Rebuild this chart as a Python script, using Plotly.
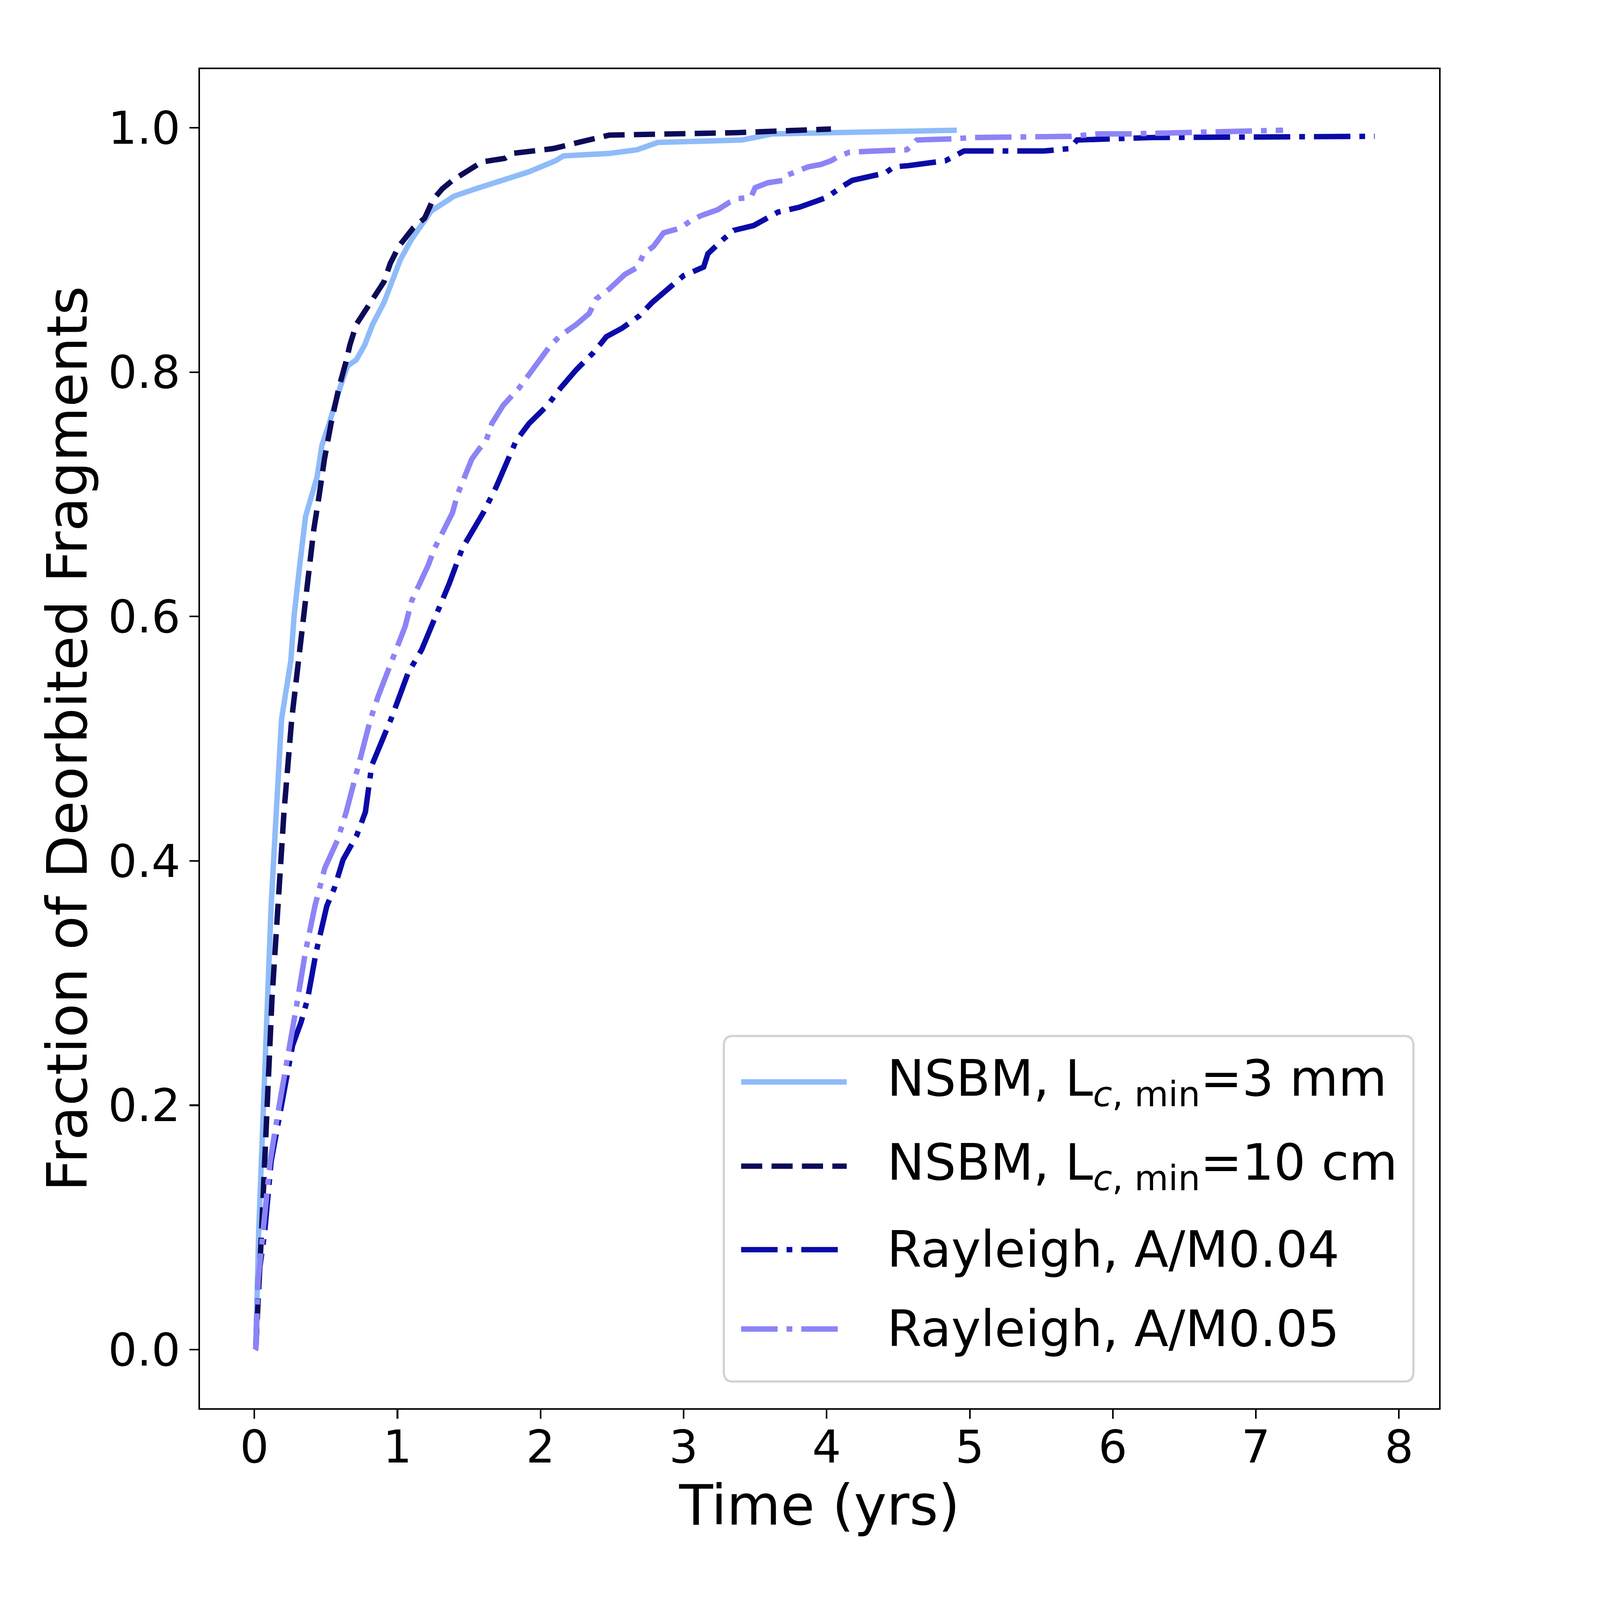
import plotly.graph_objects as go

# ---------------- data ----------------
nsbm3_t = [0.005, 0.01, 0.03, 0.07, 0.087, 0.117, 0.153, 0.19, 0.255, 0.278,
           0.317, 0.358, 0.438, 0.472, 0.523, 0.55, 0.598, 0.65, 0.712, 0.77,
           0.826, 0.906, 0.963, 1.02, 1.10, 1.168, 1.237, 1.317, 1.396, 1.545,
           1.727, 1.92, 2.105, 2.16, 2.48, 2.675, 2.82, 3.41, 3.62, 4.91]
nsbm3_f = [0.0, 0.001, 0.096, 0.211, 0.287, 0.363, 0.44, 0.516, 0.564, 0.601,
           0.642, 0.682, 0.714, 0.74, 0.758, 0.77, 0.787, 0.805, 0.81, 0.822,
           0.839, 0.857, 0.874, 0.892, 0.909, 0.921, 0.932, 0.938, 0.944, 0.950,
           0.957, 0.964, 0.973, 0.977, 0.979, 0.982, 0.988, 0.990, 0.995, 0.998]

nsbm10_t = [0.005, 0.01, 0.05, 0.096, 0.123, 0.165, 0.207, 0.261, 0.308, 0.358,
            0.415, 0.454, 0.49, 0.536, 0.59, 0.644, 0.667, 0.712, 0.815, 0.906,
            0.95, 1.01, 1.11, 1.19, 1.248, 1.313, 1.385, 1.487, 1.59, 1.75,
            1.80, 2.02, 2.09, 2.30, 2.48, 3.37, 4.03]
nsbm10_f = [0.0, 0.001, 0.096, 0.211, 0.287, 0.363, 0.44, 0.516, 0.564, 0.613,
            0.671, 0.70, 0.729, 0.758, 0.787, 0.81, 0.822, 0.839, 0.857, 0.874,
            0.889, 0.903, 0.918, 0.926, 0.941, 0.950, 0.957, 0.964, 0.972, 0.975,
            0.979, 0.982, 0.983, 0.989, 0.994, 0.996, 0.999]

ray04_t = [0.005, 0.01, 0.027, 0.072, 0.117, 0.207, 0.267, 0.326, 0.372, 0.431,
           0.506, 0.56, 0.62, 0.716, 0.776, 0.82, 0.89, 0.955, 1.015, 1.075,
           1.17, 1.248, 1.362, 1.454, 1.60, 1.69, 1.77, 1.83, 1.92, 2.05,
           2.14, 2.25, 2.37, 2.46, 2.57, 2.69, 2.78, 2.88, 3.0, 3.14,
           3.17, 3.28, 3.35, 3.49, 3.66, 3.81, 3.91, 4.0, 4.11, 4.18,
           4.41, 4.47, 4.57, 4.83, 4.96, 5.52, 5.70, 5.75, 6.27, 7.83]
ray04_f = [0.0, 0.001, 0.058, 0.096, 0.154, 0.211, 0.249, 0.268, 0.287, 0.325,
           0.363, 0.378, 0.401, 0.421, 0.44, 0.478, 0.497, 0.516, 0.535, 0.554,
           0.573, 0.595, 0.627, 0.656, 0.685, 0.706, 0.729, 0.744, 0.758, 0.773,
           0.787, 0.802, 0.816, 0.829, 0.836, 0.846, 0.857, 0.867, 0.879, 0.886,
           0.897, 0.909, 0.916, 0.920, 0.931, 0.935, 0.939, 0.943, 0.952, 0.957,
           0.963, 0.968, 0.969, 0.973, 0.981, 0.981, 0.983, 0.990, 0.992, 0.993]

ray05_t = [0.005, 0.01, 0.027, 0.057, 0.11, 0.162, 0.222, 0.273, 0.303, 0.356,
           0.423, 0.492, 0.581, 0.642, 0.686, 0.731, 0.77, 0.812, 0.866, 0.931,
           0.99, 1.054, 1.10, 1.215, 1.26, 1.385, 1.42, 1.52, 1.57, 1.62,
           1.66, 1.74, 1.85, 1.92, 2.0, 2.07, 2.14, 2.25, 2.34, 2.39,
           2.48, 2.59, 2.68, 2.72, 2.79, 2.86, 2.98, 3.05, 3.12, 3.24,
           3.32, 3.38, 3.47, 3.50, 3.59, 3.70, 3.72, 3.79, 3.87, 3.96,
           4.03, 4.09, 4.16, 4.34, 4.56, 4.60, 4.63, 4.90, 5.01, 5.71,
           5.9, 6.12, 7.19]
ray05_f = [0.0, 0.001, 0.058, 0.096, 0.154, 0.192, 0.23, 0.268, 0.287, 0.325,
           0.363, 0.394, 0.417, 0.44, 0.459, 0.478, 0.497, 0.516, 0.535, 0.554,
           0.572, 0.592, 0.613, 0.642, 0.656, 0.685, 0.70, 0.729, 0.737, 0.744,
           0.758, 0.773, 0.787, 0.798, 0.81, 0.822, 0.83, 0.839, 0.848, 0.86,
           0.868, 0.88, 0.886, 0.897, 0.903, 0.914, 0.918, 0.924, 0.928, 0.933,
           0.939, 0.942, 0.943, 0.951, 0.955, 0.957, 0.961, 0.964, 0.968, 0.970,
           0.973, 0.977, 0.980, 0.981, 0.982, 0.986, 0.990, 0.991, 0.992, 0.993,
           0.995, 0.995, 0.998]

series_names = [
    "NSBM, L<sub><i>c</i>, min</sub>=3 mm",
    "NSBM, L<sub><i>c</i>, min</sub>=10 cm",
    "Rayleigh, A/M0.04",
    "Rayleigh, A/M0.05",
]
x_ticks = [0, 1, 2, 3, 4, 5, 6, 7, 8]
y_ticks = [0.0, 0.2, 0.4, 0.6, 0.8, 1.0]
y_tick_labels = ["0.0", "0.2", "0.4", "0.6", "0.8", "1.0"]

# ---------------- styles ----------------
colors = ["#8FBBF9", "#0B0B58", "#0A0AA8", "#8C84F6"]
LW = 17
dashes = ["solid", "66px,29px", "114px,28px,18px,28px", "114px,28px,18px,28px"]
FONT = "DejaVu Sans"

W, H = 5000, 4599
ML, MR, MT, MB = 625, 503, 199, 551

fig = go.Figure()
series = [(nsbm3_t, nsbm3_f), (nsbm10_t, nsbm10_f), (ray04_t, ray04_f), (ray05_t, ray05_f)]
for (t, f), name, c, d in zip(series, series_names, colors, dashes):
    fig.add_trace(go.Scatter(x=t, y=f, mode="lines", name=name, showlegend=False,
                             line=dict(color=c, width=LW, dash=d)))

# ---------------- manual legend (matplotlib-like) ----------------
pw, ph = W - ML - MR, H - MT - MB
def px2paper(X, Y):
    return (X - ML) / pw, (H - MB - Y) / ph

bx0, by0 = px2paper(2262, 2978)
bx1, by1 = px2paper(4417, 3971)
rx, ry = 28 / pw, 28 / ph
path = (f"M{bx0+rx},{by0} L{bx1-rx},{by0} Q{bx1},{by0} {bx1},{by0-ry} "
        f"L{bx1},{by1+ry} Q{bx1},{by1} {bx1-rx},{by1} L{bx0+rx},{by1} "
        f"Q{bx0},{by1} {bx0},{by1+ry} L{bx0},{by0-ry} Q{bx0},{by0} {bx0+rx},{by0} Z")
shapes = [dict(type="path", xref="paper", yref="paper", path=path,
               fillcolor="rgba(255,255,255,0.8)", line=dict(color="#D3D3D3", width=7),
               layer="above")]
annotations = []
rows_y = [3110, 3352, 3592, 3820]
for ry_px, name, c, d in zip(rows_y, series_names, colors, dashes):
    lx0, ly = px2paper(2316, ry_px)
    lx1, _ = px2paper(2646, ry_px)
    shapes.append(dict(type="line", xref="paper", yref="paper", x0=lx0, x1=lx1, y0=ly, y1=ly,
                       line=dict(color=c, width=LW, dash=d), layer="above"))
    tx, _ = px2paper(2770, ry_px)
    annotations.append(dict(xref="paper", yref="paper", x=tx, y=ly, text=name,
                            showarrow=False, xanchor="left", yanchor="middle",
                            font=dict(family=FONT, size=156, color="black")))

axis_common = dict(showgrid=False, zeroline=False, showline=True, linecolor="black",
                   linewidth=5, mirror=True, ticks="outside", ticklen=28, tickwidth=4.5,
                   tickcolor="black", tickfont=dict(family=FONT, size=142, color="black"))

fig.update_layout(
    width=W, height=H,
    margin=dict(l=ML, r=MR, t=MT, b=MB, pad=0),
    paper_bgcolor="white", plot_bgcolor="white",
    font=dict(family=FONT, color="black"),
    xaxis=dict(range=[-0.38, 8.28], tickvals=x_ticks, ticklabelstandoff=-34,
               title=dict(text="Time (yrs)", font=dict(family=FONT, size=173, color="black"),
                          standoff=0),
               **axis_common),
    yaxis=dict(range=[-0.048, 1.048], tickvals=y_ticks, ticktext=y_tick_labels,
               title=dict(text="Fraction of Deorbited Fragments",
                          font=dict(family=FONT, size=175, color="black"), standoff=8),
               **axis_common),
    shapes=shapes, annotations=annotations,
)

# Fit the figure into whatever viewport the browser gives (keeps fonts unstretched).
post = """
var gd = document.getElementById('{plot_id}');
var de = document.documentElement, bd = document.body;
de.style.margin = '0'; de.style.padding = '0'; de.style.overflow = 'hidden';
bd.style.margin = '0'; bd.style.padding = '0'; bd.style.overflow = 'hidden';
var W = %d, H = %d, MT = %d, MB = %d;
var iw = window.innerWidth, ih = window.innerHeight;
var k = iw / W;
var hh = Math.round(ih / k);
var sy = hh / H;
gd.style.width = W + 'px';
gd.style.height = hh + 'px';
gd.style.transformOrigin = '0 0';
gd.style.transform = 'scale(' + k + ')';
if (Math.abs(sy - 1) > 0.002) {
  Plotly.relayout(gd, {'height': hh, 'margin.t': MT * sy, 'margin.b': MB * sy});
}
""" % (W, H, MT, MB)

fig.write_html("out.html", post_script=post, config={"displayModeBar": False})
